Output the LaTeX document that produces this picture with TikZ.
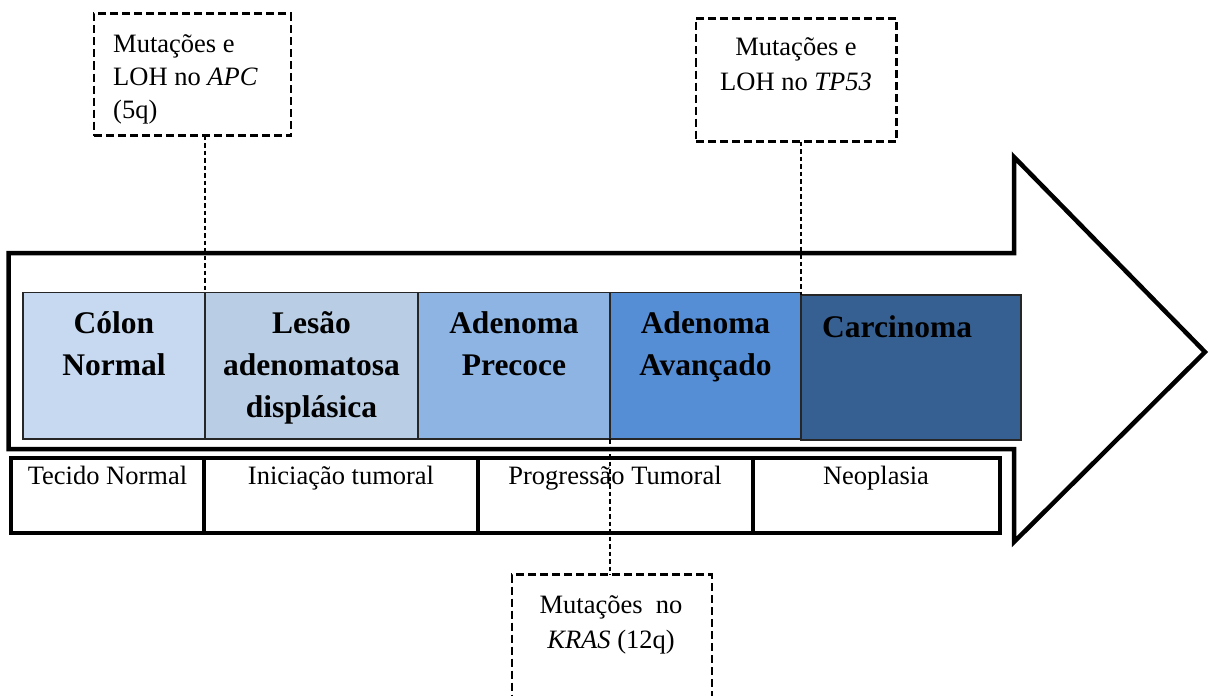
\documentclass[tikz,border=0pt]{standalone}
\usepackage{fontspec}
\setmainfont{Liberation Serif}
\definecolor{cColon}{RGB}{198,217,241}
\definecolor{cLesao}{RGB}{185,205,228}
\definecolor{cPrec}{RGB}{142,180,227}
\definecolor{cAvan}{RGB}{85,142,213}
\definecolor{cCarc}{RGB}{55,96,146}
\begin{document}
\begin{tikzpicture}[x=1pt,y=-1pt,
  arrowline/.style={draw=black, line width=4.5pt, line join=miter, fill=white},
  stage/.style={draw=black!85, line width=1.8pt, inner sep=0pt, outer sep=0pt, anchor=north west},
  stagetxt/.style={font=\bfseries\fontsize{31.5}{42}\selectfont, align=center, inner sep=0pt, anchor=north},
  cell/.style={draw=black, line width=4pt, inner sep=0pt, outer sep=0pt, anchor=north west, minimum height=75pt},
  celltxt/.style={font=\fontsize{26.5}{30}\selectfont, inner sep=0pt, anchor=base},
  note/.style={draw=black, line width=2.8pt, dash pattern=on 8pt off 4pt, inner sep=0pt, outer sep=0pt, anchor=north west},
  notetxt/.style={font=\fontsize{26.5}{35}\selectfont, inner sep=0pt},
  link/.style={draw=black, line width=1.5pt, dash pattern=on 4.5pt off 3pt}
]
\useasboundingbox (0,0) rectangle (1211,696);
\clip (0,0) rectangle (1211,696);
\fill[white] (0,0) rectangle (1211,696);

% big arrow
\draw[arrowline] (8.5,253) -- (1014,253) -- (1014,157) -- (1205,352) -- (1014,542) -- (1014,449) -- (8.5,449) -- cycle;

% stages
\node[stage, fill=cColon, minimum width=182pt, minimum height=146.5pt] (colon) at (23,292.5) {};
\node[stage, fill=cLesao, minimum width=213pt, minimum height=146.5pt] (lesao) at (colon.north east) {};
\node[stage, fill=cPrec, minimum width=192pt, minimum height=146.5pt] (prec) at (lesao.north east) {};
\node[stage, fill=cAvan, minimum width=191pt, minimum height=146.5pt] (avan) at (prec.north east) {};
\node[stage, fill=cCarc, minimum width=220pt, minimum height=145pt] (carc) at (801,295) {};

\node[stagetxt] (tcolon) at (114,303.6) {\strut Cólon\\Normal};
\node[stagetxt] (tlesao) at (311.5,303.6) {\strut Lesão\\adenomatosa\\displásica};
\node[stagetxt] (tprec) at (514,303.6) {\strut Adenoma\\Precoce};
\node[stagetxt] (tavan) at (705.5,303.6) {\strut Adenoma\\Avançado};
\node[stagetxt, anchor=north west, align=left] (tcarc) at (822,307.6) {\strut Carcinoma};

% table
\node[cell, minimum width=193pt] (t1) at (11,458) {};
\node[cell, minimum width=274pt] (t2) at (t1.north east) {};
\node[cell, minimum width=275pt] (t3) at (t2.north east) {};
\node[cell, minimum width=247pt] (t4) at (t3.north east) {};
\node[celltxt] (tt1) at (107.5,484) {Tecido Normal};
\node[celltxt] (tt2) at (341,484) {Iniciação tumoral};
\node[celltxt] (tt3) at (615,484) {Progressão Tumoral};
\node[celltxt] (tt4) at (876,484) {Neoplasia};

% notes
\node[note, minimum width=197pt, minimum height=122pt] (apc) at (94,13.5) {};
\node[note, minimum width=200.5pt, minimum height=123pt] (tp53) at (696,18.5) {};
\node[note, minimum width=200pt, minimum height=140pt] (kras) at (512,574.5) {};

\node[notetxt, font=\fontsize{26.5}{33}\selectfont, anchor=north west, align=left] (tapc) at (113,28.9) {\strut Mutações e\\LOH no \textit{APC}\\(5q)};
\node[notetxt, anchor=north, align=center] (ttp53) at (796,30.5) {\strut Mutações e\\LOH no \textit{TP53}};
\node[notetxt, anchor=north, align=center] (tkras) at (611,588.5) {\strut Mutações~ no\\\textit{KRAS} (12q)};

% links
\draw[link] (colon.north east |- apc.south) -- (colon.north east);
\draw[link] (carc.north west |- tp53.south) -- (carc.north west);
\draw[link] (avan.south west) -- (avan.south west |- kras.north);
\end{tikzpicture}
\end{document}
